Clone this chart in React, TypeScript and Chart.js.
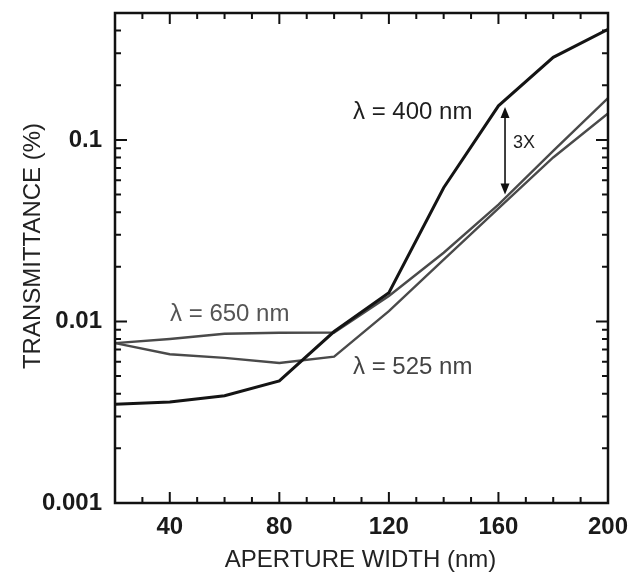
import React, { useEffect, useRef } from 'react';
import { Chart, registerables } from 'chart.js';

Chart.register(...registerables);

// ---- data ----
const APERTURE_NM = [20, 40, 60, 80, 100, 120, 140, 160, 180, 200];
const T_400 = [0.0035, 0.0036, 0.0039, 0.0047, 0.0088, 0.0144, 0.0545, 0.154, 0.285, 0.406];
const T_650 = [0.0076, 0.008, 0.00855, 0.00867, 0.0087, 0.0138, 0.0239, 0.044, 0.087, 0.17];
const T_525 = [0.0076, 0.0066, 0.0063, 0.0059, 0.0064, 0.0114, 0.0219, 0.042, 0.08, 0.14];
const X_TICKS = [40, 80, 120, 160, 200];
const Y_TICKS = [0.001, 0.01, 0.1];
const SERIES_LABELS = ['λ = 400 nm', 'λ = 650 nm', 'λ = 525 nm'];

// annotation anchors (data coordinates)
const LABEL_POS = [
  { x: 106.9, y: 0.1426 },
  { x: 40.1, y: 0.0109 },
  { x: 106.9, y: 0.00558 },
];
const ARROW = { x: 162.4, yTop: 0.152, yBottom: 0.05, text: '3X', textX: 165.3, textY: 0.0963 };

const FONT = '"Liberation Sans", Arial, Helvetica, sans-serif';

const toPoints = (ys: number[]) => APERTURE_NM.map((x, i) => ({ x, y: ys[i] }));

const decorPlugin = {
  id: 'decor',
  afterDatasetsDraw(chart: any) {
    const { ctx, chartArea: a } = chart;
    const xs = chart.scales.x;
    const ys = chart.scales.y;
    ctx.save();
    // frame
    ctx.strokeStyle = '#111';
    ctx.lineWidth = 2.5;
    ctx.strokeRect(a.left, a.top, a.right - a.left, a.bottom - a.top);
    // x ticks (inside, bottom and top)
    ctx.lineWidth = 2;
    for (let v = 30; v < 200; v += 10) {
      const px = xs.getPixelForValue(v);
      const len = X_TICKS.includes(v) ? 11 : 6;
      ctx.beginPath();
      ctx.moveTo(px, a.bottom);
      ctx.lineTo(px, a.bottom - len);
      ctx.moveTo(px, a.top);
      ctx.lineTo(px, a.top + len);
      ctx.stroke();
    }
    // y ticks (log, inside, left and right)
    for (let d = -3; d <= -1; d++) {
      for (let m = 1; m <= 9; m++) {
        const v = m * Math.pow(10, d);
        if (v <= 0.001 || v >= 0.5) continue;
        const py = ys.getPixelForValue(v);
        const len = m === 1 ? 12 : 6;
        ctx.beginPath();
        ctx.moveTo(a.left, py);
        ctx.lineTo(a.left + len, py);
        ctx.moveTo(a.right, py);
        ctx.lineTo(a.right - len, py);
        ctx.stroke();
      }
    }
    // series labels
    ctx.font = `24px ${FONT}`;
    ctx.textBaseline = 'middle';
    ctx.textAlign = 'left';
    const labelColors = ['#1e1e1e', '#555555', '#444444'];
    SERIES_LABELS.forEach((t, i) => {
      ctx.fillStyle = labelColors[i];
      ctx.fillText(t, xs.getPixelForValue(LABEL_POS[i].x), ys.getPixelForValue(LABEL_POS[i].y));
    });
    // arrow
    const ax = xs.getPixelForValue(ARROW.x);
    const y1 = ys.getPixelForValue(ARROW.yTop);
    const y2 = ys.getPixelForValue(ARROW.yBottom);
    ctx.strokeStyle = '#111';
    ctx.fillStyle = '#111';
    ctx.lineWidth = 1.6;
    ctx.beginPath();
    ctx.moveTo(ax, y1 + 8);
    ctx.lineTo(ax, y2 - 8);
    ctx.stroke();
    ctx.beginPath();
    ctx.moveTo(ax, y1);
    ctx.lineTo(ax - 4.5, y1 + 11);
    ctx.lineTo(ax + 4.5, y1 + 11);
    ctx.closePath();
    ctx.fill();
    ctx.beginPath();
    ctx.moveTo(ax, y2);
    ctx.lineTo(ax - 4.5, y2 - 11);
    ctx.lineTo(ax + 4.5, y2 - 11);
    ctx.closePath();
    ctx.fill();
    ctx.font = `18px ${FONT}`;
    ctx.fillStyle = '#1e1e1e';
    ctx.fillText(ARROW.text, xs.getPixelForValue(ARROW.textX), ys.getPixelForValue(ARROW.textY));
    // axis titles
    ctx.fillStyle = '#222';
    ctx.font = `24px ${FONT}`;
    ctx.textAlign = 'center';
    ctx.fillText('APERTURE WIDTH (nm)', (a.left + a.right) / 2 - 1, 560);
    ctx.translate(33, 246);
    ctx.rotate(-Math.PI / 2);
    ctx.fillText('TRANSMITTANCE (%)', 0, 0);
    ctx.restore();
  },
};

export default function App() {
  const ref = useRef<HTMLCanvasElement>(null);
  useEffect(() => {
    document.body.style.margin = '0';
    const canvas = ref.current!;
    const chart = new Chart(canvas, {
      type: 'line',
      data: {
        datasets: [
          { label: SERIES_LABELS[0], data: toPoints(T_400), borderColor: '#141414', borderWidth: 3, pointRadius: 0, tension: 0 },
          { label: SERIES_LABELS[1], data: toPoints(T_650), borderColor: '#4a4a4a', borderWidth: 2.4, pointRadius: 0, tension: 0 },
          { label: SERIES_LABELS[2], data: toPoints(T_525), borderColor: '#4a4a4a', borderWidth: 2.4, pointRadius: 0, tension: 0 },
        ],
      },
      options: {
        responsive: false,
        animation: false,
        devicePixelRatio: 1,
        layout: { padding: { top: 13, right: 24, left: 0, bottom: 0 } },
        plugins: { legend: { display: false }, tooltip: { enabled: false } },
        scales: {
          x: {
            type: 'linear',
            min: 20,
            max: 200,
            grid: { display: false, drawTicks: false },
            border: { display: false },
            afterBuildTicks: (s: any) => { s.ticks = X_TICKS.map((v) => ({ value: v })); },
            afterFit: (s: any) => { s.height = 72; s.paddingLeft = 0; s.paddingRight = 0; },
            ticks: {
              padding: 10,
              maxRotation: 0,
              color: '#1a1a1a',
              font: { family: FONT, size: 24, weight: 'bold' },
              callback: (v: any) => String(v),
            },
          },
          y: {
            type: 'logarithmic',
            min: 0.001,
            max: 0.5,
            grid: { display: false, drawTicks: false },
            border: { display: false },
            afterBuildTicks: (s: any) => { s.ticks = Y_TICKS.map((v) => ({ value: v })); },
            afterFit: (s: any) => { s.width = 115; s.paddingTop = 0; s.paddingBottom = 0; },
            ticks: {
              padding: 13,
              color: '#1a1a1a',
              font: { family: FONT, size: 24, weight: 'bold' },
              callback: (v: any) => String(v),
            },
          },
        },
      },
      plugins: [decorPlugin],
    });
    return () => chart.destroy();
  }, []);
  return <canvas ref={ref} width={632} height={575} style={{ display: 'block' }} />;
}
